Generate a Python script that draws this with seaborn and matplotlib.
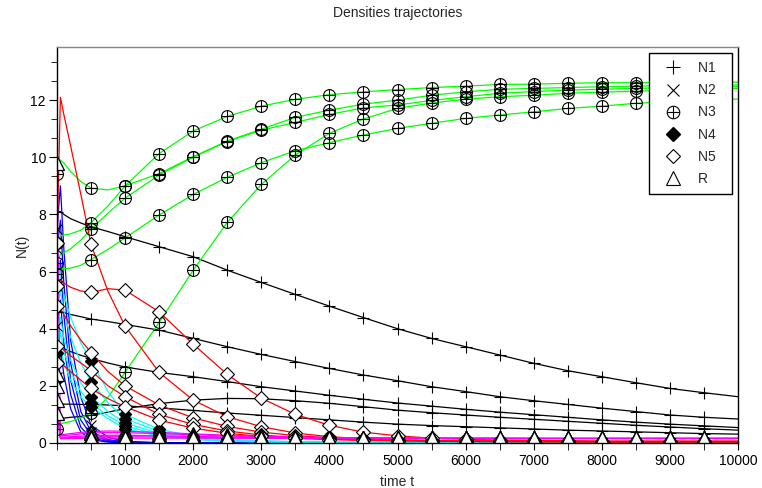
import numpy as np
import pandas as pd
import matplotlib
matplotlib.use('Agg')
import matplotlib.pyplot as plt
import seaborn as sns
from matplotlib.lines import Line2D
from matplotlib.legend_handler import HandlerTuple
from matplotlib.ticker import MultipleLocator, AutoMinorLocator

sns.set_style('ticks')
plt.rcParams['font.family'] = ['Liberation Sans', 'DejaVu Sans']

times = [0, 50, 100, 200, 350, 500, 750, 1000, 1500, 2000, 2500, 3000, 3500,
         4000, 4500, 5000, 5500, 6000, 6500, 7000, 7500, 8000, 8500, 9000, 9500, 10000]

# one row per trajectory, values read at the times above
N1 = [
    [8.1, 8.1, 8.0, 7.85, 7.7, 7.57, 7.4, 7.22, 6.87, 6.52, 6.05, 5.62, 5.20, 4.79, 4.39, 4.00, 3.66, 3.37, 3.08, 2.79, 2.53, 2.32, 2.11, 1.91, 1.76, 1.62],
    [4.6, 4.6, 4.56, 4.5, 4.42, 4.34, 4.25, 4.15, 3.95, 3.66, 3.37, 3.10, 2.85, 2.61, 2.38, 2.18, 1.97, 1.80, 1.62, 1.48, 1.35, 1.22, 1.10, 0.98, 0.90, 0.84],
    [3.4, 3.35, 3.3, 3.2, 3.07, 2.96, 2.8, 2.66, 2.47, 2.32, 2.15, 1.97, 1.82, 1.67, 1.53, 1.40, 1.29, 1.18, 1.08, 0.99, 0.90, 0.81, 0.73, 0.66, 0.60, 0.54],
    [0.86, 0.86, 0.87, 0.9, 0.93, 0.97, 1.08, 1.2, 1.38, 1.5, 1.56, 1.55, 1.48, 1.39, 1.27, 1.15, 1.06, 0.98, 0.90, 0.83, 0.76, 0.69, 0.62, 0.56, 0.50, 0.45],
    [1.36, 1.36, 1.36, 1.36, 1.35, 1.35, 1.33, 1.30, 1.23, 1.14, 1.05, 0.97, 0.89, 0.81, 0.73, 0.66, 0.61, 0.57, 0.53, 0.49, 0.45, 0.42, 0.39, 0.36, 0.33, 0.31],
]
N2 = [
    [7.5, 9.0, 6.8, 3.6, 1.6, 0.63, 0.2, 0.06, 0.01, 0.0, 0.0, 0.0, 0.0, 0.0, 0.0, 0.0, 0.0, 0.0, 0.0, 0.0, 0.0, 0.0, 0.0, 0.0, 0.0, 0.0],
    [6.8, 7.8, 5.6, 2.8, 1.1, 0.4, 0.12, 0.04, 0.01, 0.0, 0.0, 0.0, 0.0, 0.0, 0.0, 0.0, 0.0, 0.0, 0.0, 0.0, 0.0, 0.0, 0.0, 0.0, 0.0, 0.0],
    [5.5, 6.4, 4.5, 2.2, 0.8, 0.28, 0.08, 0.02, 0.0, 0.0, 0.0, 0.0, 0.0, 0.0, 0.0, 0.0, 0.0, 0.0, 0.0, 0.0, 0.0, 0.0, 0.0, 0.0, 0.0, 0.0],
    [4.1, 5.0, 3.5, 1.7, 0.55, 0.18, 0.05, 0.01, 0.0, 0.0, 0.0, 0.0, 0.0, 0.0, 0.0, 0.0, 0.0, 0.0, 0.0, 0.0, 0.0, 0.0, 0.0, 0.0, 0.0, 0.0],
    [2.3, 3.3, 2.4, 1.2, 0.38, 0.12, 0.03, 0.01, 0.0, 0.0, 0.0, 0.0, 0.0, 0.0, 0.0, 0.0, 0.0, 0.0, 0.0, 0.0, 0.0, 0.0, 0.0, 0.0, 0.0, 0.0],
]
N3 = [
    [9.4, 9.9, 9.8, 9.5, 9.15, 8.92, 8.86, 9.0, 9.43, 10.02, 10.57, 10.98, 11.40, 11.65, 11.86, 12.0, 12.17, 12.29, 12.38, 12.41, 12.44, 12.47, 12.49, 12.51, 12.52, 12.53],
    [7.0, 7.25, 7.28, 7.32, 7.45, 7.71, 8.3, 9.0, 10.13, 10.92, 11.43, 11.79, 12.03, 12.19, 12.29, 12.37, 12.44, 12.49, 12.55, 12.56, 12.59, 12.61, 12.61, 12.62, 12.62, 12.63],
    [6.3, 6.6, 6.65, 6.8, 7.1, 7.48, 8.05, 8.57, 9.38, 10.0, 10.55, 10.95, 11.22, 11.50, 11.73, 11.83, 11.99, 12.12, 12.24, 12.30, 12.35, 12.38, 12.41, 12.44, 12.46, 12.47],
    [5.9, 6.12, 6.1, 6.12, 6.22, 6.42, 6.78, 7.18, 7.98, 8.70, 9.30, 9.81, 10.23, 10.51, 10.78, 11.01, 11.19, 11.36, 11.48, 11.59, 11.71, 11.79, 11.89, 11.95, 12.0, 12.04],
    [0.5, 0.68, 0.7, 0.75, 0.88, 1.04, 1.6, 2.48, 4.22, 6.05, 7.72, 9.05, 10.08, 10.84, 11.34, 11.71, 11.90, 12.03, 12.12, 12.17, 12.24, 12.28, 12.31, 12.35, 12.38, 12.41],
]
N4 = [
    [7.0, 5.7, 5.2, 4.4, 3.5, 2.88, 1.8, 1.0, 0.48, 0.24, 0.13, 0.08, 0.05, 0.04, 0.03, 0.02, 0.02, 0.02, 0.01, 0.01, 0.01, 0.01, 0.01, 0.01, 0.01, 0.01],
    [4.8, 5.3, 4.6, 3.7, 2.8, 2.15, 1.4, 0.85, 0.40, 0.20, 0.10, 0.06, 0.04, 0.03, 0.02, 0.02, 0.01, 0.01, 0.01, 0.01, 0.01, 0.01, 0.01, 0.01, 0.01, 0.01],
    [3.15, 4.4, 3.7, 2.9, 2.1, 1.62, 1.1, 0.70, 0.33, 0.16, 0.08, 0.05, 0.03, 0.02, 0.02, 0.01, 0.01, 0.01, 0.01, 0.01, 0.01, 0.01, 0.01, 0.01, 0.01, 0.01],
    [2.85, 3.9, 3.2, 2.5, 1.8, 1.39, 0.95, 0.60, 0.28, 0.14, 0.07, 0.04, 0.03, 0.02, 0.01, 0.01, 0.01, 0.01, 0.01, 0.01, 0.01, 0.01, 0.01, 0.01, 0.01, 0.01],
    [2.2, 3.4, 2.8, 2.2, 1.6, 1.27, 0.85, 0.50, 0.24, 0.12, 0.06, 0.04, 0.02, 0.02, 0.01, 0.01, 0.01, 0.01, 0.01, 0.01, 0.01, 0.01, 0.01, 0.01, 0.01, 0.01],
]
N5 = [
    [7.0, 12.1, 11.5, 10.4, 8.7, 6.95, 5.3, 4.09, 2.47, 1.50, 0.92, 0.57, 0.35, 0.22, 0.15, 0.11, 0.09, 0.08, 0.07, 0.06, 0.06, 0.05, 0.05, 0.05, 0.05, 0.05],
    [5.5, 5.7, 5.6, 5.45, 5.32, 5.27, 5.4, 5.35, 4.59, 3.46, 2.40, 1.57, 1.0, 0.62, 0.38, 0.25, 0.17, 0.13, 0.10, 0.09, 0.08, 0.07, 0.07, 0.07, 0.07, 0.07],
    [4.8, 4.7, 4.5, 4.1, 3.6, 3.16, 2.5, 2.0, 1.33, 0.88, 0.58, 0.38, 0.26, 0.18, 0.13, 0.10, 0.08, 0.07, 0.06, 0.06, 0.05, 0.05, 0.05, 0.05, 0.05, 0.05],
    [3.4, 3.35, 3.25, 3.05, 2.8, 2.53, 2.0, 1.62, 1.0, 0.65, 0.42, 0.28, 0.19, 0.14, 0.10, 0.08, 0.07, 0.06, 0.05, 0.05, 0.05, 0.04, 0.04, 0.04, 0.04, 0.04],
    [2.8, 2.8, 2.7, 2.5, 2.2, 1.91, 1.55, 1.27, 0.80, 0.52, 0.34, 0.23, 0.16, 0.12, 0.09, 0.07, 0.06, 0.05, 0.05, 0.04, 0.04, 0.04, 0.04, 0.04, 0.04, 0.04],
]
R = [
    [9.8, 0.3, 0.3, 0.33, 0.37, 0.40, 0.42, 0.41, 0.37, 0.32, 0.27, 0.23, 0.21, 0.19, 0.18, 0.17, 0.17, 0.17, 0.17, 0.16, 0.16, 0.16, 0.16, 0.16, 0.16, 0.16],
    [2.4, 0.25, 0.26, 0.28, 0.32, 0.35, 0.37, 0.36, 0.33, 0.29, 0.25, 0.22, 0.20, 0.19, 0.18, 0.17, 0.17, 0.17, 0.16, 0.16, 0.16, 0.16, 0.16, 0.16, 0.16, 0.16],
    [2.0, 0.2, 0.21, 0.22, 0.24, 0.26, 0.27, 0.27, 0.25, 0.23, 0.21, 0.20, 0.19, 0.18, 0.17, 0.17, 0.17, 0.16, 0.16, 0.16, 0.16, 0.16, 0.16, 0.16, 0.16, 0.16],
    [1.5, 0.17, 0.18, 0.19, 0.20, 0.21, 0.22, 0.22, 0.21, 0.20, 0.19, 0.18, 0.17, 0.17, 0.17, 0.16, 0.16, 0.16, 0.16, 0.16, 0.16, 0.16, 0.16, 0.16, 0.16, 0.16],
    [1.05, 0.15, 0.15, 0.16, 0.16, 0.17, 0.17, 0.17, 0.17, 0.17, 0.17, 0.16, 0.16, 0.16, 0.16, 0.16, 0.16, 0.16, 0.16, 0.16, 0.16, 0.16, 0.16, 0.16, 0.16, 0.16],
]

names = ['N1', 'N2', 'N3', 'N4', 'N5', 'R']
colors = {'N1': 'black', 'N2': '#0000ff', 'N3': '#00ff00', 'N4': '#00ffff',
          'N5': '#ff0000', 'R': '#ff00ff'}

rows = []
for name, trajs in zip(names, [N1, N2, N3, N4, N5, R]):
    for k, vals in enumerate(trajs):
        assert len(vals) == len(times), (name, k, len(vals))
        for t, v in zip(times, vals):
            rows.append((name, k, t, v))
df = pd.DataFrame(rows, columns=['var', 'traj', 't', 'value'])

fig = plt.figure(figsize=(7.62, 4.88), dpi=100)
ax = fig.add_axes([57/762, 1-443/488, (738-57)/762, (443-47)/488])

for name in names:
    sns.lineplot(data=df[df['var'] == name], x='t', y='value', units='traj',
                 estimator=None, color=colors[name], lw=0.9, ax=ax, legend=False)

# markers every 500 time units
mk = df[(df['t'] % 500 == 0) & (df['t'] < 10000)]
def pts(name):
    d = mk[mk['var'] == name]
    return d['t'], d['value']

x, y = pts('N3')
ax.plot(x, y, ls='none', marker='o', ms=8.5, mfc='none', mec='k', mew=0.8)
ax.plot(x, y, ls='none', marker='+', ms=8.5, color='k', mew=0.8)
x, y = pts('N1')
ax.plot(x, y, ls='none', marker='+', ms=8, color='k', mew=0.8)
x, y = pts('N2')
ax.plot(x, y, ls='none', marker='x', ms=6.5, color='k', mew=0.8)
x, y = pts('N4')
ax.plot(x, y, ls='none', marker='D', ms=6.5, color='k')
x, y = pts('N5')
ax.plot(x, y, ls='none', marker='D', ms=7.5, mfc='white', mec='k', mew=0.8)
x, y = pts('R')
ax.plot(x, y, ls='none', marker='^', ms=9.5, mfc='white', mec='k', mew=0.9)

ax.set_xlim(0, 10000)
ax.set_ylim(0, 13.86)
ax.set_xticks(range(1000, 10001, 1000))
ax.xaxis.set_minor_locator(MultipleLocator(500))
ax.yaxis.set_major_locator(MultipleLocator(2))
ax.yaxis.set_minor_locator(AutoMinorLocator(3))
ax.tick_params(axis='both', which='both', direction='out', labelsize=10, colors='k')
ax.tick_params(axis='y', which='major', length=6, pad=2)
ax.tick_params(axis='y', which='minor', length=4)
ax.tick_params(axis='x', which='both', length=5, pad=3)
for s in ['left', 'bottom', 'right']:
    ax.spines[s].set_color('k')
    ax.spines[s].set_linewidth(1)
ax.spines['top'].set_color('#888888')
ax.spines['top'].set_linewidth(1)

ax.set_xlabel('time t', fontsize=10, labelpad=5)
ax.set_ylabel('N(t)', fontsize=10, labelpad=1)
fig.text(0.5*(57+738)/762, 1-13/488, 'Densities trajectories', ha='center', va='center', fontsize=10)

lm = dict(ls='none', color='k', mew=0.8)
handles = [
    Line2D([], [], marker='+', ms=10, **lm),
    Line2D([], [], marker='x', ms=8, **lm),
    (Line2D([], [], marker='o', ms=9, mfc='none', mec='k', ls='none', mew=0.8),
     Line2D([], [], marker='+', ms=9, **lm)),
    Line2D([], [], marker='D', ms=7, ls='none', color='k'),
    Line2D([], [], marker='D', ms=7.5, mfc='white', mec='k', ls='none', mew=0.8),
    Line2D([], [], marker='^', ms=10, mfc='white', mec='k', ls='none', mew=0.8),
]
leg_labels = [n + '  ' for n in names]
leg = ax.legend(handles, leg_labels, handler_map={tuple: HandlerTuple(ndivide=1)},
                loc='upper right', bbox_to_anchor=(732/762, 1-53/488),
                bbox_transform=fig.transFigure, borderaxespad=0, fontsize=10,
                frameon=True, fancybox=False, framealpha=1, edgecolor='k',
                labelspacing=0.58, handlelength=2.25, handletextpad=0.67,
                borderpad=0.6)
leg.get_frame().set_linewidth(1)

fig.savefig('out.png', dpi=100)
